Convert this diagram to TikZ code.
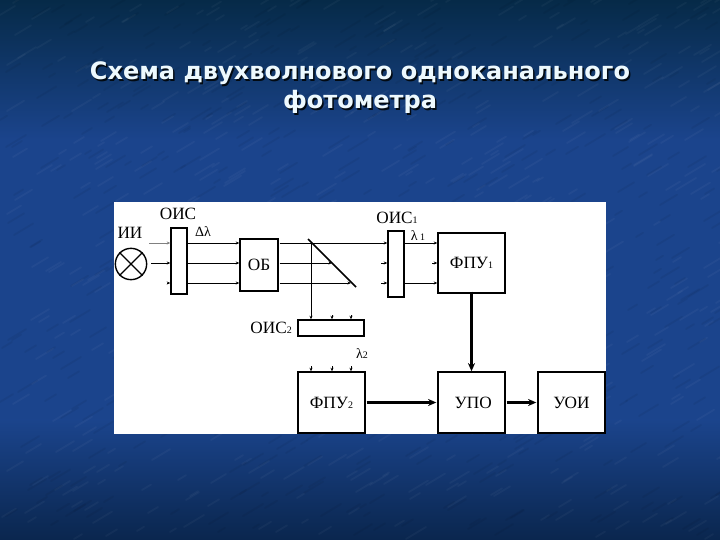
\documentclass[tikz,border=0pt]{standalone}
\usepackage{fontspec}
\setmainfont{Liberation Serif}
\newfontfamily\titlefont{DejaVu Sans}
\usetikzlibrary{arrows.meta}
\definecolor{bgtop}{RGB}{6,42,72}
\definecolor{bgmid}{RGB}{27,68,140}
\definecolor{bgbot}{RGB}{10,38,78}
\tikzset{
  block/.style={draw,line width=1.2pt,fill=white,minimum width=#1,inner sep=0pt},
  txt/.style={inner sep=0pt,font=\fontsize{14.7}{16}\selectfont},
  subtxt/.style={inner sep=0pt,font=\fontsize{12}{13}\selectfont},
  ray/.style={line width=0.6pt,-{Stealth[length=3pt,width=2.5pt]}},
  sigline/.style={line width=2pt,-{Stealth[length=7pt,width=6pt]}},
  title/.style={align=center,inner sep=0pt,font=\titlefont\bfseries\fontsize{20.5}{24.7}\selectfont},
}
\newcommand{\sub}[1]{{\fontsize{8.5}{9}\selectfont #1}}
\begin{document}
\begin{tikzpicture}[x=0.03cm,y=-0.03cm]
\useasboundingbox (0,0) rectangle (720,540);
\shade[top color=bgtop,bottom color=bgmid] (0,0) rectangle (720,140);
\fill[bgmid] (0,140) rectangle (720,420);
\shade[top color=bgmid,bottom color=bgbot] (0,420) rectangle (720,540);
% paper grain
\pgfmathsetseed{7}
\foreach \n in {1,...,500}{
  \pgfmathsetmacro{\gx}{random(0,720)}
  \pgfmathsetmacro{\gy}{random(0,540)}
  \pgfmathsetmacro{\gl}{random(6,20)}
  \draw[white,opacity=0.035,line width=1.6pt,line cap=round] (\gx,\gy) -- ++(\gl,-0.6*\gl);
  \pgfmathsetmacro{\gx}{random(0,720)}
  \pgfmathsetmacro{\gy}{random(0,540)}
  \draw[black,opacity=0.05,line width=1.6pt,line cap=round] (\gx,\gy) -- ++(\gl,-0.6*\gl);
}
\node[title,text=black!75!bgtop] at (361.5,89.5) {Схема двухволнового одноканального\\фотометра};
\node[title,text=white!93!cyan] (caption) at (360,88) {Схема двухволнового одноканального\\фотометра};
\fill[white] (114,202) rectangle (606,434);
% lamp
\node[draw,circle,line width=1.2pt,inner sep=0pt,minimum size=0.94cm] (lamp) at (131,264) {};
\draw[line width=1.2pt] (lamp.north west) -- (lamp.south east);
\draw[line width=1.2pt] (lamp.north east) -- (lamp.south west);
\node[txt] (lampname) at (130,233) {ИИ};
% boxes
\node[block=0.48cm,minimum height=1.98cm] (ois) at (179,261) {};
\node[block=1.14cm,minimum height=1.56cm,txt] (ob) at (259,265) {ОБ};
\node[block=0.48cm,minimum height=1.98cm] (oisone) at (396,264) {};
\node[block=2.01cm,minimum height=1.8cm,txt] (fpuone) at (471.5,263) {ФПУ\sub{1}};
\node[block=1.98cm,minimum height=0.48cm] (oistwo) at (331,328) {};
\node[block=2.01cm,minimum height=1.83cm,txt] (fputwo) at (331.5,402.5) {ФПУ\sub{2}};
\node[block=2.01cm,minimum height=1.83cm,txt] (upo) at (471.5,402.5) {\hspace{0.1cm}УПО};
\node[block=2.01cm,minimum height=1.83cm,txt] (uoi) at (571.5,402.5) {УОИ};
% labels
\node[txt] (oisname) at (178,214) {ОИС};
\node[subtxt] (dl) at (203,232) {Δλ};
\node[txt] (oisonename) at (397,218) {ОИС\sub{1}};
\node[subtxt] (lone) at (418,236) {λ\,\sub{1}};
\node[txt,anchor=east] (oistwoname) at (292,328) {ОИС\sub{2}};
\node[subtxt] (ltwo) at (362,354) {λ\sub{2}};
% mirror
\coordinate (ma) at (308,239);
\coordinate (mb) at (356,287);
\draw[line width=1.3pt] (ma) -- (mb);
\coordinate (rayA) at (0,243);
\coordinate (rayB) at (0,263);
\coordinate (rayC) at (0,283);
\coordinate (rayA1) at (149,243);
\coordinate (rayB1) at (151,263);
\coordinate (rayC1) at (167,283);
\coordinate (hitA) at (311,243);
\coordinate (hitB) at (332,263);
\coordinate (hitC) at (351,283);
% rays from the lamp
\draw[ray,gray] (rayA1) -- (ois.west |- rayA);
\draw[ray] (rayB1) -- (ois.west |- rayB);
\draw[ray] (rayC1) -- (ois.west |- rayC);
\draw[ray] (ois.east |- rayA) -- (ob.west |- rayA);
\draw[ray] (ois.east |- rayB) -- (ob.west |- rayB);
\draw[ray] (ois.east |- rayC) -- (ob.west |- rayC);
\draw[ray] ([xshift=0.03cm]ob.east |- rayA) -- (oisone.west |- rayA);
\draw[ray] ([xshift=0.03cm]ob.east |- rayB) -- (hitB);
\draw[ray] ([xshift=0.03cm]ob.east |- rayC) -- (hitC);
\draw[ray] (hitA) -- (hitA |- oistwo.north);
\draw[ray] ([yshift=0.12cm]hitB |- oistwo.north) -- (hitB |- oistwo.north);
\draw[ray] ([yshift=0.12cm]hitC |- oistwo.north) -- (hitC |- oistwo.north);
\draw[ray] ([yshift=0.15cm]hitA |- fputwo.north) -- (hitA |- fputwo.north);
\draw[ray] ([yshift=0.15cm]hitB |- fputwo.north) -- (hitB |- fputwo.north);
\draw[ray] ([yshift=0.15cm]hitC |- fputwo.north) -- (hitC |- fputwo.north);
\draw[ray] ([xshift=-0.18cm]oisone.west |- rayB) -- (oisone.west |- rayB);
\draw[ray] ([xshift=-0.18cm]oisone.west |- rayC) -- (oisone.west |- rayC);
\draw[ray] (oisone.east |- rayA) -- (fpuone.west |- rayA);
\draw[ray] ([xshift=-0.15cm]fpuone.west |- rayB) -- (fpuone.west |- rayB);
\draw[ray] (oisone.east |- rayC) -- (fpuone.west |- rayC);
% signal path
\draw[sigline] ([yshift=0.06cm]fpuone.south) -- (upo.north);
\draw[sigline] ([xshift=0.03cm]fputwo.east) -- ([xshift=-0.03cm]upo.west);
\draw[sigline] ([xshift=0.03cm]upo.east) -- ([xshift=-0.03cm]uoi.west);
\end{tikzpicture}
\end{document}
